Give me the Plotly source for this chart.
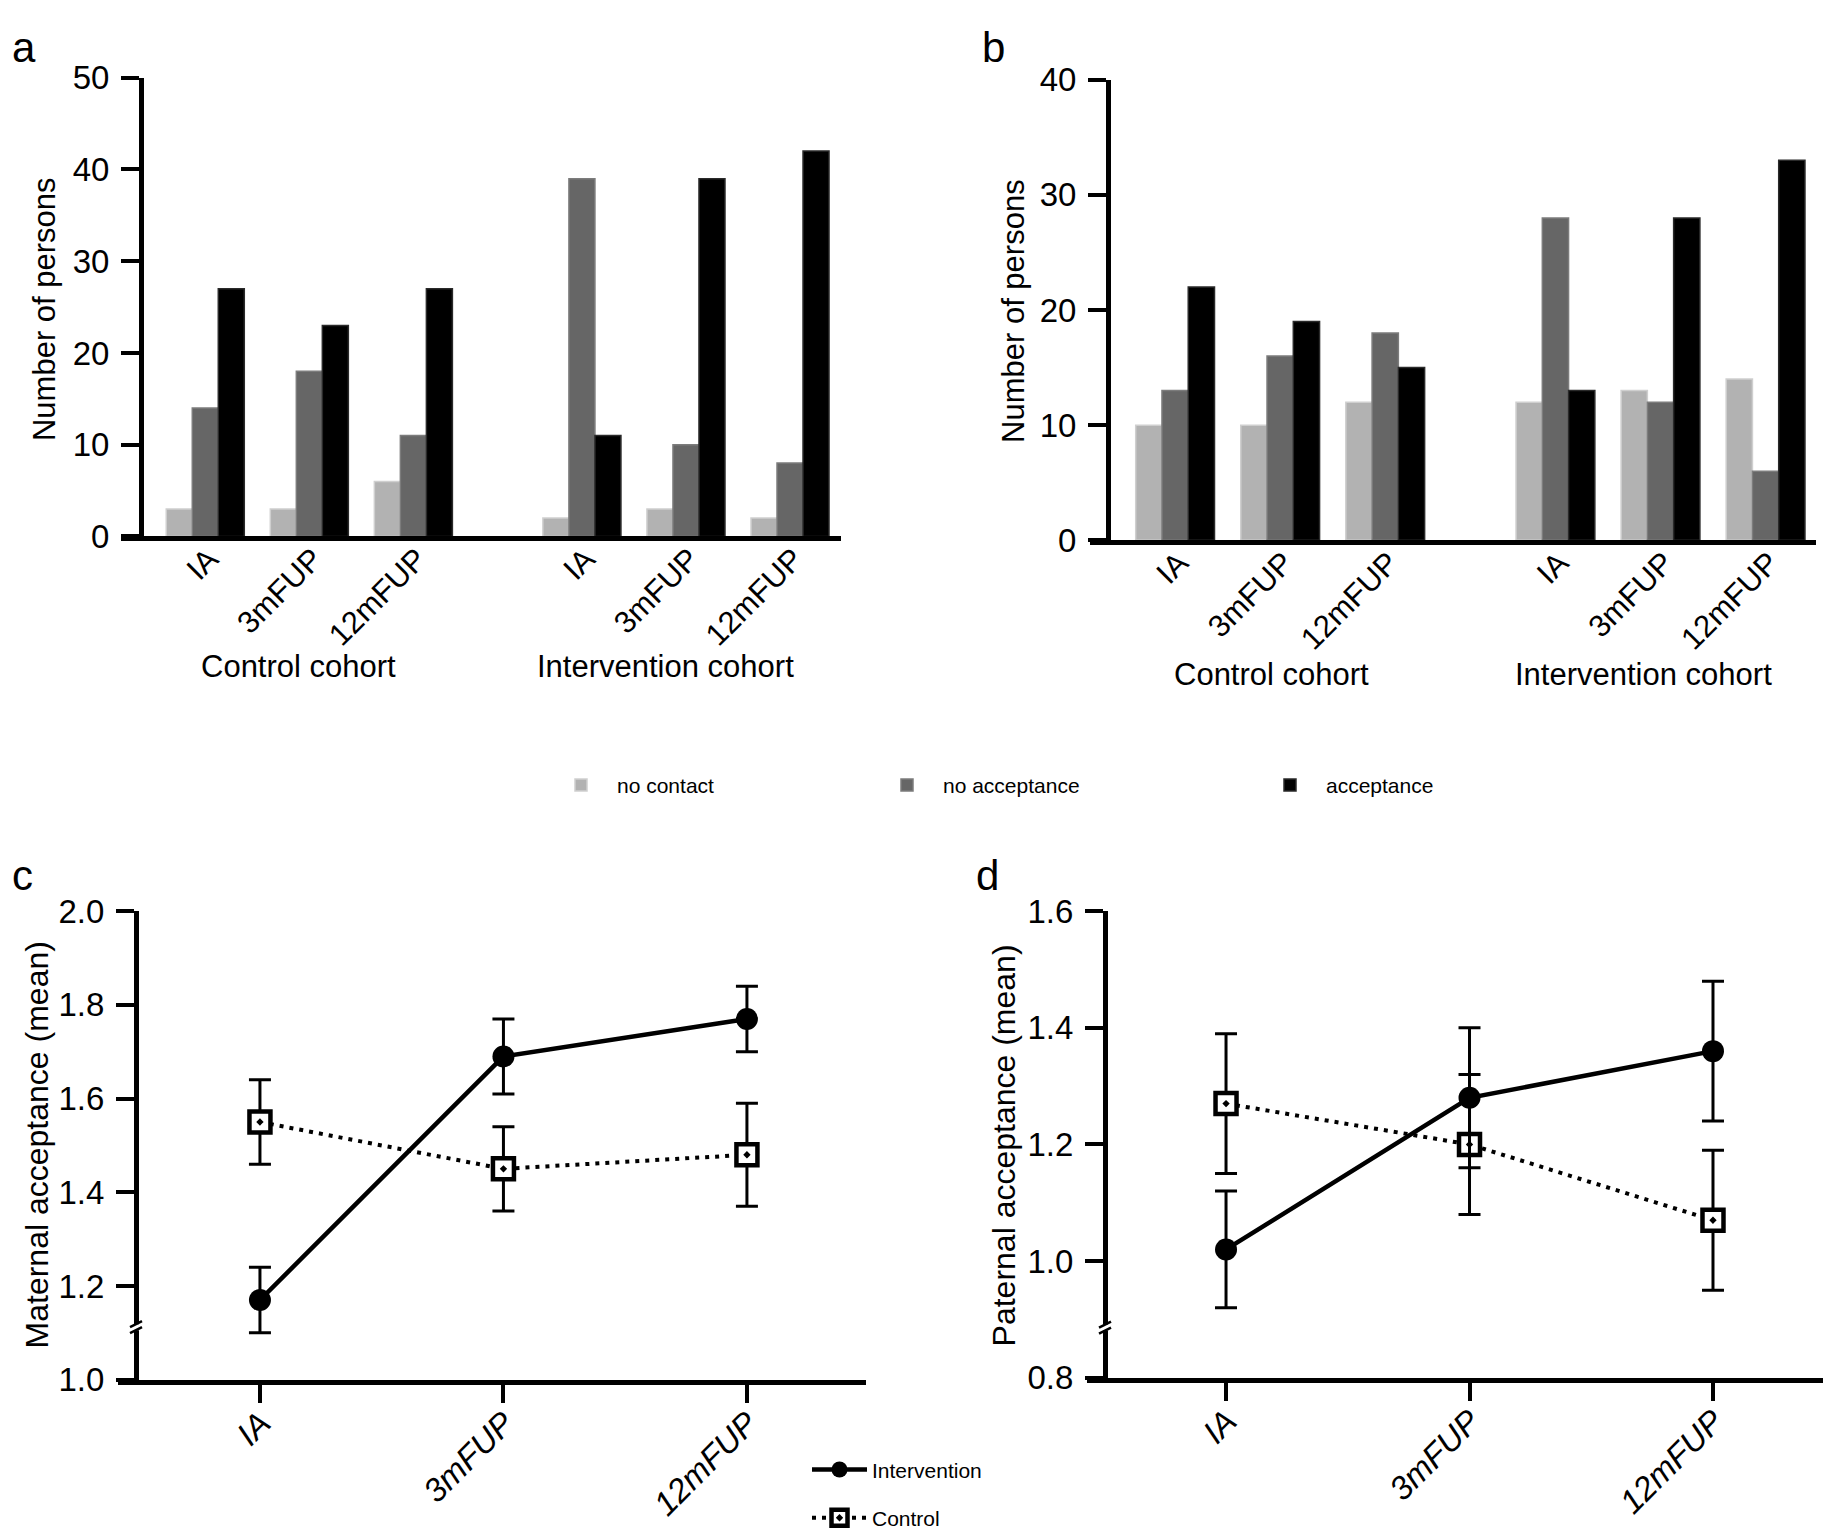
import plotly.graph_objects as go

# ---- data -------------------------------------------------------------
timepoints = ["IA", "3mFUP", "12mFUP"]
cohorts = ["Control cohort", "Intervention cohort"]
answer_types = ["no contact", "no acceptance", "acceptance"]
bar_colors = ["#b2b2b2", "#666666", "#000000"]
bar_edges = ["#cfcfcf", "#7c7c7c", "#2a2a2a"]

# panel a (control IA, 3mFUP, 12mFUP, intervention IA, 3mFUP, 12mFUP)
a_no_contact = [3, 3, 6, 2, 3, 2]
a_no_acceptance = [14, 18, 11, 39, 10, 8]
a_acceptance = [27, 23, 27, 11, 39, 42]

# panel b
b_no_contact = [10, 10, 12, 12, 13, 14]
b_no_acceptance = [13, 16, 18, 28, 12, 6]
b_acceptance = [22, 19, 15, 13, 28, 33]

# panel c - maternal acceptance (mean, lower, upper)
c_int_mean = [1.17, 1.69, 1.77]
c_int_low = [1.10, 1.61, 1.70]
c_int_high = [1.24, 1.77, 1.84]
c_ctl_mean = [1.55, 1.45, 1.48]
c_ctl_low = [1.46, 1.36, 1.37]
c_ctl_high = [1.64, 1.54, 1.59]

# panel d - paternal acceptance
d_int_mean = [1.02, 1.28, 1.36]
d_int_low = [0.92, 1.16, 1.24]
d_int_high = [1.12, 1.40, 1.48]
d_ctl_mean = [1.27, 1.20, 1.07]
d_ctl_low = [1.15, 1.08, 0.95]
d_ctl_high = [1.39, 1.32, 1.19]

# ---- geometry helpers -------------------------------------------------
W, H = 1831, 1539
FONT = "Liberation Sans, Arial, sans-serif"
COHORT_GAP = 0.62


def px(x):
    return x / W


def py(y):
    return 1 - y / H


n_t = len(timepoints)
bar_x = [c * (n_t + COHORT_GAP) + i for c in range(len(cohorts)) for i in range(n_t)]
bar_labels = timepoints * len(cohorts)

fig = go.Figure()

panels = [
    ("x", "y", [a_no_contact, a_no_acceptance, a_acceptance], True),
    ("x2", "y2", [b_no_contact, b_no_acceptance, b_acceptance], False),
]
legends = ["legend", "legend2", "legend3"]
for xa, ya, series, show in panels:
    for k, vals in enumerate(series):
        fig.add_trace(go.Bar(
            x=bar_x, y=vals, name=answer_types[k],
            xaxis=xa, yaxis=ya,
            marker=dict(color=bar_colors[k], line=dict(color=bar_edges[k], width=1.5)),
            offsetgroup=str(k), legend=legends[k], showlegend=show,
        ))


def err(mean, low, high):
    return dict(type="data", symmetric=False,
                array=[h - m for m, h in zip(mean, high)],
                arrayminus=[m - l for m, l in zip(mean, low)],
                color="black", thickness=3, width=11)


line_panels = [
    ("x3", "y3", (c_int_mean, c_int_low, c_int_high), (c_ctl_mean, c_ctl_low, c_ctl_high), True),
    ("x4", "y4", (d_int_mean, d_int_low, d_int_high), (d_ctl_mean, d_ctl_low, d_ctl_high), False),
]
for xa, ya, ints, ctls, show in line_panels:
    fig.add_trace(go.Scatter(
        x=timepoints, y=ctls[0], name="Control", xaxis=xa, yaxis=ya,
        mode="lines+markers", error_y=err(*ctls),
        line=dict(color="black", width=4, dash="4px,6px"),
        marker=dict(symbol="square-dot", size=21, color="white",
                    line=dict(color="black", width=4.5)),
        legend="legend4", legendgroup="ctl", legendrank=2, showlegend=show,
    ))
    fig.add_trace(go.Scatter(
        x=timepoints, y=ints[0], name="Intervention", xaxis=xa, yaxis=ya,
        mode="lines+markers", error_y=err(*ints),
        line=dict(color="black", width=4.5),
        marker=dict(symbol="circle", size=22, color="black"),
        legend="legend4", legendgroup="int", legendrank=1, showlegend=show,
    ))

tickfont = dict(family=FONT, size=31, color="black")
common_x = dict(showline=True, linewidth=5, linecolor="black", showgrid=False,
                zeroline=False, tickangle=-45, tickfont=tickfont)
common_y = dict(showline=True, linewidth=5, linecolor="black", showgrid=False,
                zeroline=False, ticks="outside", ticklen=18, tickwidth=4,
                tickcolor="black", tickfont=dict(tickfont, size=33), anchor="free",
                ticklabelstandoff=5)
bar_x_axis = dict(common_x, tickmode="array", tickvals=bar_x, ticktext=bar_labels,
                  ticks="", ticklabelstandoff=-13, ticklabelshift=4)
line_x_axis = dict(common_x, type="category", ticks="outside", ticklen=18, tickwidth=4,
                   tickcolor="black", tickfont=dict(tickfont, size=33, style="italic"),
                   ticklabelstandoff=-12, ticklabelshift=1)
legend_style = dict(xanchor="left", yanchor="middle", font=dict(size=21),
                    bgcolor="rgba(0,0,0,0)", itemwidth=62)

fig.update_layout(
    width=W, height=H, margin=dict(l=0, r=0, t=0, b=0),
    paper_bgcolor="white", plot_bgcolor="white",
    barmode="group", bargap=0.25, bargroupgap=0,
    font=dict(family=FONT, color="black"),
    xaxis=dict(bar_x_axis, domain=[px(113), px(833)], range=[-0.81, 6.11], anchor="y"),
    yaxis=dict(common_y, domain=[py(523), py(53)], position=px(133), range=[0, 50], dtick=10),
    xaxis2=dict(bar_x_axis, domain=[px(1082), px(1808)], range=[-0.81, 6.10], anchor="y2"),
    yaxis2=dict(common_y, domain=[py(527), py(55)], position=px(1100), range=[0, 40], dtick=10),
    xaxis3=dict(line_x_axis, domain=[px(110), px(858)], range=[-0.583, 2.489], anchor="y3"),
    yaxis3=dict(common_y, domain=[py(1387), py(907)], position=px(128), range=[1.0, 2.0],
                dtick=0.2, tickformat=".1f"),
    xaxis4=dict(line_x_axis, domain=[px(1079), px(1826)], range=[-0.571, 2.497], anchor="y4"),
    yaxis4=dict(common_y, domain=[py(1385), py(907)], position=px(1097), range=[0.8, 1.6],
                dtick=0.2, tickformat=".1f"),
    legend=dict(legend_style, x=px(537), y=py(778)),
    legend2=dict(legend_style, x=px(863), y=py(778)),
    legend3=dict(legend_style, x=px(1246), y=py(778)),
    legend4=dict(legend_style, x=px(799), y=py(1504), tracegroupgap=18, itemwidth=55),
)

# panel letters, axis titles and cohort labels
notes = [
    ("a", 2, 22, 42, "left", 0), ("b", 972, 22, 42, "left", 0),
    ("c", 2, 870, 42, "left", 0), ("d", 966, 870, 42, "left", 0),
    ("Number of persons", 36, 290, 31, "center", -90),
    ("Number of persons", 1006, 292, 31, "center", -90),
    ("Maternal acceptance (mean)", 29, 1147, 32, "center", -90),
    ("Paternal acceptance (mean)", 996, 1147, 32, "center", -90),
    ("Control cohort", 290, 656, 31, "center", 0),
    ("Intervention cohort", 657, 656, 31, "center", 0),
    ("Control cohort", 1263, 664, 31, "center", 0),
    ("Intervention cohort", 1635, 664, 31, "center", 0),
]
for text, x, y, size, anchor, angle in notes:
    fig.add_annotation(text=text, x=px(x), y=py(y), xref="paper", yref="paper",
                       xanchor=anchor, yanchor="middle", textangle=angle,
                       showarrow=False, font=dict(family=FONT, size=size, color="black"))

# axis break marks on the y axes of c and d
for yref, val, xpos in [("y3", 1.112, 128), ("y4", 0.886, 1097)]:
    common = dict(xref="paper", yref=yref, xsizemode="pixel", ysizemode="pixel",
                  xanchor=px(xpos), yanchor=val, layer="above")
    fig.add_shape(type="rect", x0=-6, x1=6, y0=-3, y1=3, fillcolor="white",
                  line=dict(width=0), **common)
    fig.add_shape(type="line", x0=-6, x1=6, y0=-6, y1=0, line=dict(color="black", width=2.5), **common)
    fig.add_shape(type="line", x0=-6, x1=6, y0=0, y1=6, line=dict(color="black", width=2.5), **common)

fig.write_html("out.html")
